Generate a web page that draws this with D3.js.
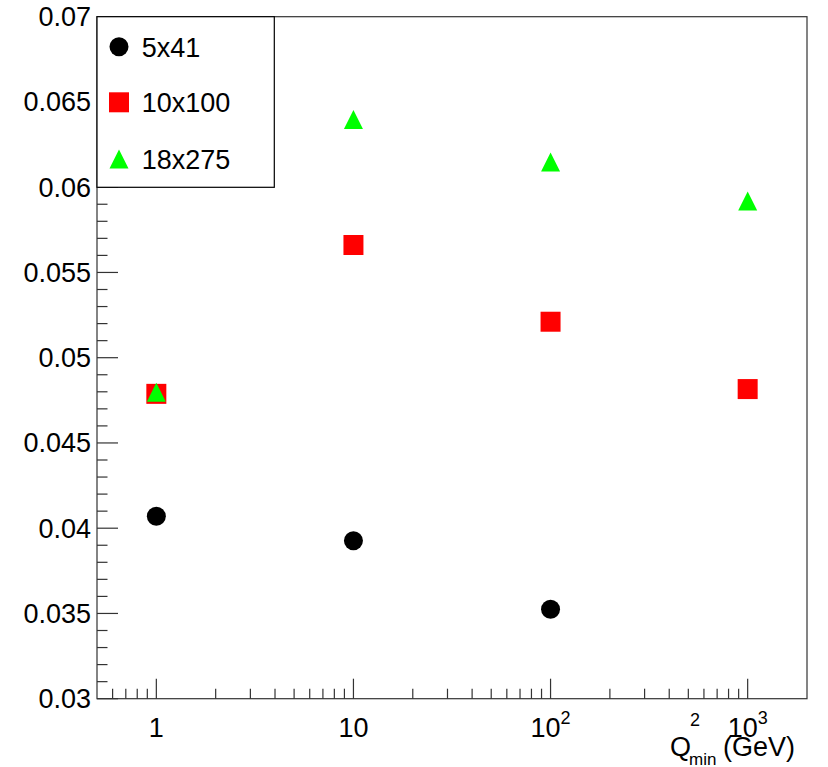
<!DOCTYPE html>
<html lang="en">

<head>
    <meta charset="UTF-8">
    <title>Q2min scan</title>
    <style>
        body { margin: 0; background: #fff; }
        text { font-family: "Liberation Sans", Arial, sans-serif; fill: #000; }
    </style>
</head>

<body>
    <svg id="chart" width="828" height="767"></svg>
    <script src="https://cdn.jsdelivr.net/npm/d3@7"></script>
    <script>
        // data
        const q2min = [1, 10, 100, 1000];
        const beams = ["5x41", "10x100", "18x275"];
        const val5x41 = [0.0407, 0.03926, 0.03525, null];
        const val10x100 = [0.04788, 0.05661, 0.05211, 0.04816];
        const val18x275 = [0.04797, 0.06397, 0.06148, 0.05919];
        const yTicks = [0.03, 0.035, 0.04, 0.045, 0.05, 0.055, 0.06, 0.065, 0.07];
        const yTickLabels = ["0.03", "0.035", "0.04", "0.045", "0.05", "0.055", "0.06", "0.065", "0.07"];
        const xTicks = [1, 10, 100, 1000];
        const xTickLabels = [["1", ""], ["10", ""], ["10", "2"], ["10", "3"]];

        const svg = d3.select("#chart");
        const fLeft = 97, fRight = 807, fTop = 16.7, fBottom = 698.7;

        const x = d3.scaleLog().domain([0.5, 2000]).range([fLeft, fRight]);
        const y = d3.scaleLinear().domain([0.03, 0.07]).range([fBottom, fTop]);

        // frame
        svg.append("rect")
            .attr("x", fLeft).attr("y", fTop)
            .attr("width", fRight - fLeft).attr("height", fBottom - fTop)
            .attr("fill", "none").attr("stroke", "#333").attr("stroke-width", 1.2);

        // y ticks (major + minor)
        const yMinor = d3.range(30, 71).map(d => d / 1000);
        svg.append("g").selectAll("line")
            .data(yMinor)
            .join("line")
            .attr("x1", fLeft)
            .attr("x2", (d, i) => fLeft + (i % 5 === 0 ? 21 : 10.5))
            .attr("y1", d => y(d)).attr("y2", d => y(d))
            .attr("stroke", "#333").attr("stroke-width", 1.2);

        svg.append("g").selectAll("text")
            .data(yTicks)
            .join("text")
            .attr("x", 91)
            .attr("y", d => y(d) + 9.5)
            .attr("text-anchor", "end")
            .attr("font-size", 27)
            .text((d, i) => yTickLabels[i]);

        // x ticks (log)
        const xMinor = [];
        [0.1, 1, 10, 100, 1000].forEach(dec => {
            for (let k = 1; k <= 9; k++) {
                const v = dec * k;
                if (v > 0.5 && v < 2000) xMinor.push(v);
            }
        });
        svg.append("g").selectAll("line")
            .data(xMinor)
            .join("line")
            .attr("x1", d => x(d)).attr("x2", d => x(d))
            .attr("y1", fBottom)
            .attr("y2", d => fBottom - (xTicks.includes(d) ? 20 : 10))
            .attr("stroke", "#333").attr("stroke-width", 1.2);

        const xl = svg.append("g").selectAll("text")
            .data(xTicks)
            .join("text")
            .attr("x", d => x(d))
            .attr("y", 737)
            .attr("text-anchor", "middle")
            .attr("font-size", 27);
        xl.append("tspan").text((d, i) => xTickLabels[i][0]);
        xl.append("tspan")
            .attr("font-size", 18)
            .attr("dy", -13)
            .text((d, i) => xTickLabels[i][1]);

        // axis title
        svg.append("text").attr("x", 670).attr("y", 756).attr("font-size", 27).text("Q");
        svg.append("text").attr("x", 690).attr("y", 726).attr("font-size", 18).text("2");
        svg.append("text").attr("x", 689).attr("y", 765).attr("font-size", 17).text("min");
        svg.append("text").attr("x", 795).attr("y", 756).attr("text-anchor", "end").attr("font-size", 27).text("(GeV)");

        // markers
        const triangle = {
            draw(ctx, size) {
                const h = Math.sqrt(size) / 2;
                ctx.moveTo(0, -h);
                ctx.lineTo(h, h);
                ctx.lineTo(-h, h);
                ctx.closePath();
            }
        };
        const series = [
            { name: beams[0], values: val5x41, color: "#000000", sym: d3.symbol(d3.symbolCircle, Math.PI * 9.5 * 9.5) },
            { name: beams[1], values: val10x100, color: "#ff0000", sym: d3.symbol(d3.symbolSquare, 400) },
            { name: beams[2], values: val18x275, color: "#00ff00", sym: d3.symbol(triangle, 19 * 19) }
        ];

        series.forEach(s => {
            svg.append("g").selectAll("path")
                .data(q2min.map((q, i) => [q, s.values[i]]).filter(d => d[1] != null))
                .join("path")
                .attr("transform", d => "translate(" + x(d[0]) + "," + y(d[1]) + ")")
                .attr("d", s.sym())
                .attr("fill", s.color);
        });

        // legend
        const lg = svg.append("g");
        lg.append("rect")
            .attr("x", fLeft).attr("y", fTop)
            .attr("width", 177.3).attr("height", 170.6)
            .attr("fill", "#fff").attr("stroke", "#000").attr("stroke-width", 1.2);
        const rows = [46.7, 102.3, 159];
        series.forEach((s, i) => {
            lg.append("path")
                .attr("transform", "translate(119," + rows[i] + ")")
                .attr("d", s.sym())
                .attr("fill", s.color);
            lg.append("text")
                .attr("x", 141.7).attr("y", rows[i] + 10)
                .attr("font-size", 27)
                .text(s.name);
        });
    </script>
</body>

</html>
